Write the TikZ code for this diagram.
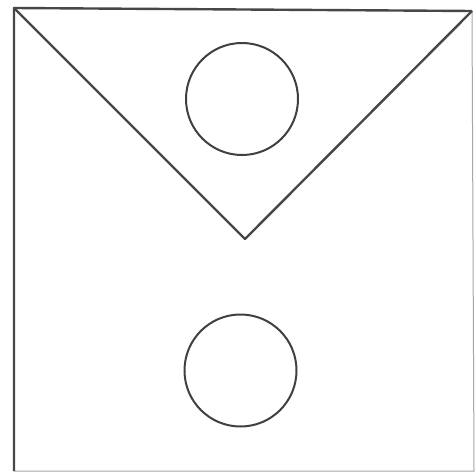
\documentclass[tikz,border=0pt]{standalone}
\begin{document}
\begin{tikzpicture}[x=1pt,y=-1pt,
  ink/.style={draw=black!72,line width=2.4pt,line join=round},
  faint/.style={draw=black!35,line width=1pt},
  ring/.style={circle,draw=black!75,line width=2pt,minimum size=112pt,inner sep=0pt}]
\useasboundingbox[fill=white] (0,0) rectangle (476,473);
\coordinate (tl) at (14,8);
\coordinate (tr) at (472,11);
\coordinate (bl) at (14,471);
\coordinate (br) at (474,471);
\coordinate (v) at (245,239);
\draw[faint] (tr) -- (br) -- (bl);
\draw[ink] (bl) -- (tl) -- (tr);
\draw[ink] (tl) -- (v) -- (tr);
\node[ring] (c1) at (242,99) {};
\node[ring] (c2) at (240.5,370.5) {};
\end{tikzpicture}
\end{document}
